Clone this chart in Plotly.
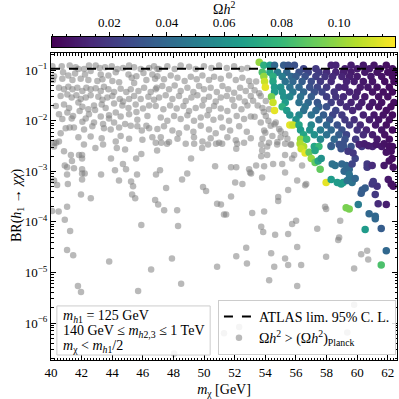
import plotly.graph_objects as go

# gray points: Omega h^2 above the Planck value
gray_x = [
    # upper band
    40.09, 40.7, 41.22, 41.61, 41.79, 42.16, 42.48, 42.92, 43.18, 43.53, 43.97, 44.34, 44.71, 45.1, 45.43, 45.86, 46.41, 46.73, 46.95,
    40.2, 40.79, 41.13, 41.57, 42.22, 42.59, 43.25, 43.75, 44.23, 45.06, 45.58, 46.04, 46.62,
    40.13, 40.74, 41.4, 41.94, 42.44, 43.03, 43.36, 44.01, 44.45, 45.27, 45.43, 46.23, 46.8,
    40.52, 40.85, 41.13, 41.4, 41.72, 42.05, 42.31, 42.59, 42.92, 43.25, 43.46, 43.75, 44.12, 44.55, 44.92, 45.21, 45.71, 46.08, 46.51, 46.84,
    40.63, 41.07, 41.35, 41.66, 41.94, 42.27, 42.59, 43.09, 43.36, 43.68, 44.01, 44.49, 44.71, 45.1, 45.43, 45.86, 46.36, 46.73,
    40.31, 40.85, 41.18, 41.79, 42.05, 42.44, 42.81, 43.31, 43.57, 44.12, 44.66, 45.06, 45.53, 46.01, 46.41,
    40.52, 41.07, 41.44, 41.87, 42.48, 42.88, 43.25, 43.79, 44.23, 44.55, 45.1, 45.58, 46.3,
    40.74, 41.35, 42.05, 42.27, 42.81, 43.4, 43.79, 44.12, 44.84, 45.64, 46.23,
    40.63, 40.96, 41.22, 41.5, 42.16, 42.7, 43.46, 43.9, 44.45, 45.21, 45.64, 45.93, 46.41,
    40.2, 40.52, 41.79, 42.59, 43.31, 44.23, 44.55, 45.1, 45.97, 46.62, 46.84,
    47.06, 47.6, 48.08, 48.47, 49.02, 49.45, 49.99, 50.48, 50.98, 51.48, 51.96, 52.44, 52.83,
    46.95, 47.38, 47.82, 48.26, 48.73, 49.13, 49.52, 49.89, 50.32, 50.65, 51.09, 51.63, 52.07, 52.5, 52.94,
    46.9, 47.27, 47.71, 48.08, 48.47, 48.91, 49.3, 49.67, 49.99, 50.43, 50.83, 51.2, 51.57, 51.96, 52.35, 52.72, 53.05,
    47.06, 47.49, 47.93, 48.36, 48.8, 49.17, 49.56, 49.99, 50.32, 50.76, 51.09, 51.48, 51.85, 52.29, 52.66, 53.05,
    46.84, 47.34, 47.78, 48.21, 48.65, 49.02, 49.45, 49.89, 50.32, 50.65, 51.09, 51.52, 51.96, 52.44, 52.83,
    47.17, 47.6, 48.04, 48.47, 48.91, 49.34, 49.78, 50.22, 50.61, 51.09, 51.63, 52.13, 52.61, 53.05,
    46.95, 47.38, 47.93, 48.36, 48.87, 49.3, 49.78, 50.32, 50.76, 51.2, 51.7, 52.29, 52.79,
    47.17, 47.71, 48.26, 48.8, 49.34, 49.89, 50.43, 50.98, 51.52, 52.07, 52.61, 53.05,
    53.4, 53.3, 53.6, 53.2, 53.5, 53.9, 53.3, 54.2, 54.6, 55.0, 55.3, 54.0,
    53.7, 54.03, 53.81, 54.24, 54.03, 53.7, 54.35, 54.68, 54.9, 53.92, 54.46, 55.0, 53.81, 54.24, 54.79, 55.44, 55.66,
    # sparse middle
    40.2, 40.33, 40.85, 41.3, 41.37, 40.9, 41.05, 41.5, 41.83, 42.03, 42.03, 42.03, 42.03, 42.2, 41.05, 42.03, 40.2, 40.4, 41.1,
    41.96, 42.6, 41.05, 40.07, 40.5, 40.9, 41.25, 41.05, 41.45, 42.15, 42.9, 43.4, 43.92, 44.3, 44.84, 44.7, 44.9, 44.18, 43.27,
    44.44, 45.23, 45.36, 45.3, 45.5, 45.62, 45.56, 45.9, 45.9, 43.8, 46.8, 47.0, 47.39, 47.52, 46.86, 47.12, 46.93, 47.2, 47.58,
    48.24, 48.3, 47.9, 46.54, 48.56, 48.9, 49.15, 49.35, 49.87, 50.26, 49.93, 50.13, 50.72, 50.85, 51.1, 51.3, 51.44, 51.76,
    52.03, 51.76, 52.1, 52.1, 52.16, 51.18, 50.78, 52.5, 52.75, 52.1, 50.85, 52.8, 41.76, 41.96, 45.69, 48.5,
    53.73, 54.12, 53.79, 53.73, 54.12, 54.77, 55.29, 55.69, 55.29, 55.88, 55.75, 53.4, 53.92, 54.51, 55.1, 56.4, 52.94, 53.07,
    53.79, 56.08, 56.67, 55.49, 54.84, 54.84, 57.9, 57.97, 53.14, 53.92, 56.01, 55.75, 57.39, 53.73, 53.86, 54.64, 55.49, 56.08,
    58.89, 58.82, 58.76, 54.38, 55.29, 57.97, 60.65, 60.72, 54.58, 55.49, 56.34, 59.8, 53.0, 55.29, 56.6, 56.08, 54.25, 60.26,
    # lowest
    48.04, 59.8, 51.3, 52.29, 59.35,
]
gray_br = [
    0.12, 0.12, 0.124, 0.115, 0.106, 0.106, 0.124, 0.124, 0.111, 0.115, 0.12, 0.106, 0.111, 0.124, 0.115, 0.106, 0.111, 0.12, 0.106,
    0.076, 0.091, 0.079, 0.086, 0.082, 0.096, 0.082, 0.079, 0.091, 0.082, 0.076, 0.088, 0.082,
    0.064, 0.068, 0.064, 0.068, 0.064, 0.061, 0.066, 0.061, 0.058, 0.071, 0.056, 0.064, 0.068,
    0.045, 0.042, 0.047, 0.042, 0.045, 0.039, 0.045, 0.042, 0.044, 0.039, 0.047, 0.042, 0.037, 0.043, 0.037, 0.042, 0.039, 0.045, 0.037, 0.042,
    0.031, 0.033, 0.029, 0.032, 0.027, 0.029, 0.032, 0.030, 0.026, 0.029, 0.031, 0.027, 0.024, 0.027, 0.031, 0.027, 0.030, 0.026,
    0.0197, 0.021, 0.018, 0.023, 0.019, 0.017, 0.020, 0.021, 0.018, 0.022, 0.020, 0.018, 0.021, 0.0175, 0.020,
    0.0135, 0.0146, 0.0125, 0.0157, 0.0135, 0.0164, 0.0122, 0.0129, 0.0146, 0.0122, 0.0135, 0.015, 0.0125,
    0.0108, 0.0111, 0.0096, 0.0111, 0.0093, 0.0086, 0.0111, 0.0093, 0.0086, 0.0105, 0.008,
    0.0057, 0.0071, 0.0074, 0.0074, 0.0067, 0.0078, 0.0071, 0.0067, 0.0074, 0.008, 0.0078, 0.0064, 0.0071,
    0.0037, 0.0039, 0.0047, 0.0049, 0.0045, 0.0039, 0.005, 0.0044, 0.0042, 0.0047, 0.0037,
    0.106, 0.12, 0.106, 0.124, 0.117, 0.106, 0.12, 0.111, 0.124, 0.111, 0.12, 0.106, 0.111,
    0.076, 0.066, 0.079, 0.071, 0.061, 0.074, 0.066, 0.079, 0.064, 0.074, 0.068, 0.079, 0.064, 0.071, 0.061,
    0.045, 0.0486, 0.042, 0.050, 0.039, 0.045, 0.037, 0.0486, 0.042, 0.045, 0.037, 0.0486, 0.042, 0.036, 0.045, 0.039, 0.0486,
    0.029, 0.032, 0.027, 0.031, 0.0247, 0.029, 0.032, 0.026, 0.030, 0.024, 0.029, 0.031, 0.026, 0.029, 0.024, 0.031,
    0.0197, 0.017, 0.020, 0.0175, 0.0197, 0.0157, 0.018, 0.020, 0.0164, 0.0197, 0.0175, 0.0157, 0.0197, 0.017, 0.020,
    0.0116, 0.010, 0.0125, 0.0108, 0.0129, 0.010, 0.0116, 0.0129, 0.0105, 0.0116, 0.010, 0.0125, 0.0108, 0.0122,
    0.0069, 0.0078, 0.0064, 0.0057, 0.0074, 0.0061, 0.008, 0.0067, 0.0057, 0.0074, 0.0064, 0.0078, 0.0061,
    0.0047, 0.0038, 0.0044, 0.0035, 0.0047, 0.0039, 0.0045, 0.0037, 0.0047, 0.0041, 0.0037, 0.0045,
    0.06, 0.04, 0.035, 0.025, 0.02, 0.015, 0.012, 0.01, 0.0085, 0.0062, 0.0055, 0.0058,
    0.031, 0.0247, 0.018, 0.017, 0.0125, 0.0093, 0.008, 0.0093, 0.0069, 0.0064, 0.005, 0.0047, 0.0044, 0.0037, 0.0038, 0.0044, 0.0034,
    3.1e-3, 3.7e-3, 2.5e-3, 2.1e-3, 1.6e-3, 1.3e-3, 1.2e-3, 1.15e-3, 2.1e-3, 2.1e-3, 1.8e-3, 1.1e-3, 9.1e-4, 9.1e-4, 8.7e-4, 6.9e-4, 6.6e-4, 5.4e-4, 5.6e-4,
    3.5e-4, 2.95e-4, 2.0e-4, 1.65e-4, 1.6e-4, 1.1e-4, 6.6e-5, 2.8e-5, 2.2e-5, 3.4e-3, 2.9e-3, 3.4e-3, 1.8e-3, 2.9e-3, 2.7e-3, 1.4e-3, 1.1e-3, 1.05e-3, 8.7e-4,
    6.6e-4, 6.3e-4, 5.1e-4, 3.5e-4, 2.95e-4, 8.7e-4, 1.8e-3, 2.2e-3, 8.7e-5, 1.65e-5, 2.7e-4, 2.2e-4, 1.7e-4, 4.7e-4, 8.7e-4, 1.05e-3, 2.6e-3, 3.7e-3, 3.5e-3,
    1.7e-4, 8.3e-5, 1.9e-5, 1.15e-5, 6.9e-4, 9.1e-4, 1.8e-3, 3.5e-3, 2.9e-3, 3.4e-3, 4.9e-4, 4.1e-4, 1.26e-3, 2.3e-4, 2.2e-4, 1.4e-4, 1.4e-4, 3.2e-4,
    6.0e-4, 1.2e-3, 1.2e-3, 2.8e-3, 3.5e-3, 3.5e-3, 3.5e-3, 5.6e-4, 3.1e-5, 2.1e-5, 1.3e-5, 1.5e-5, 5.4e-6, 4.1e-6, 4.3e-6, 6.0e-6,
    0.0034, 0.0031, 0.0026, 0.002, 0.0021, 0.0034, 0.0035, 0.0034, 0.0021, 0.0021, 0.0018, 0.0013, 0.00126, 0.0014, 0.0014, 0.0013, 0.0011, 0.00091,
    0.00076, 0.00066, 0.00056, 0.00043, 0.00031, 0.00026, 0.0002, 0.00018, 0.00015, 0.00016, 0.000105, 9.1e-5, 7.3e-5, 8.0e-5, 6.3e-5, 5.6e-5, 5.8e-5, 3.2e-5,
    1.05e-4, 4.9e-5, 4.4e-5, 2.4e-5, 1.9e-5, 2.05e-5, 2.7e-5, 1.8e-5, 1.3e-5, 1.4e-5, 1.4e-5, 1.2e-5, 0.00095, 0.00095, 0.00053, 5.4e-6, 7.0e-6, 2.3e-5,
    2.5e-7, 2.3e-6, 6.3e-7, 8.4e-7, 6.5e-7,
]

# coloured points: Omega h^2 below the Planck value
col_x = [
    53.6,
    53.9, 54.3, 54.6, 55.2, 55.5, 55.9, 58.3, 58.6, 59.6, 60.4, 61.1, 61.9,
    57.3, 59.2, 60.0, 60.8, 61.5, 62.3, 56.5,
    53.8, 54.3, 54.8, 55.4, 56.2, 56.8, 57.5, 58.0, 58.6, 59.1, 59.6, 60.5, 61.3, 62.0, 62.4,
    53.9, 54.5, 55.1, 55.7, 56.0, 56.6, 57.3, 57.9, 58.4, 59.0, 59.5, 60.0, 60.9, 61.6, 62.3,
    53.95, 54.5, 55.3, 55.8, 56.4, 57.0, 57.6, 58.3, 59.3, 59.8, 60.4, 61.0, 61.8, 62.4,
    54.0, 54.6, 55.0, 55.6, 56.2, 56.9, 57.4, 58.0, 58.8, 59.2, 60.2, 60.7, 61.3, 62.1,
    54.6, 55.1, 55.8, 56.5, 57.2, 57.7, 58.5, 59.5, 60.0, 61.0, 61.7, 62.3,
    54.4, 55.2, 55.6, 56.3, 57.0, 58.0, 58.6, 59.1, 59.9, 60.5, 61.4, 62.0,
    54.5, 55.3, 56.2, 56.8, 57.4, 58.3, 58.9, 59.6, 60.3, 61.0, 61.6, 62.4,
    55.1, 56.6, 57.5, 58.0, 59.3, 60.1, 60.8, 61.4, 62.2,
    54.6, 55.4, 56.5, 57.3, 58.6, 59.7, 61.9,
    55.6, 56.2, 57.0, 57.8, 58.4, 59.0, 60.4, 61.1, 61.7, 62.3,
    56.0, 57.5, 58.2, 59.2, 59.8, 60.8, 61.4, 62.1,
    55.6, 55.8, 56.2, 57.0, 58.0, 58.7, 59.5, 60.2, 61.2, 61.9,
    56.3, 56.9, 57.6, 58.3, 59.0, 60.0, 60.6, 61.6, 62.3,
    56.5, 57.2, 58.0, 58.8, 59.3, 60.4, 61.0, 61.8,
    56.3, 56.7, 57.6, 58.5, 59.2, 59.9, 61.3, 62.1,
    56.5, 57.2, 57.5, 58.3, 59.1, 59.6, 60.3, 61.0, 61.6, 62.3,
    56.27, 56.34, 56.6, 56.86, 57.25, 57.0, 57.25, 57.45, 57.65, 57.58,
    58.3, 58.82, 59.08, 58.95, 58.37, 58.56, 59.0, 59.28, 59.15, 59.48, 59.67, 59.87, 59.4, 59.73,
    60.13, 60.46, 60.72, 61.24, 61.76, 62.09, 62.22, 61.9, 62.28, 62.09,
    60.65, 60.65, 60.98, 61.76, 62.35,
    57.97, 58.3, 58.7, 58.95, 59.08, 59.35, 59.54, 59.67, 59.48, 59.87,
    60.33, 60.52, 60.26, 60.98, 61.3, 61.05, 61.18, 61.37, 62.03, 62.22, 62.35, 61.9,
    59.28, 59.48, 60.07, 60.78, 61.18, 61.18, 60.52, 61.57, 61.9, 61.57,
]
col_br = [
    0.144,
    0.126, 0.126, 0.126, 0.126, 0.126, 0.126, 0.126, 0.126, 0.126, 0.126, 0.126, 0.126,
    0.107, 0.107, 0.107, 0.107, 0.107, 0.107, 0.107,
    0.091, 0.091, 0.091, 0.091, 0.091, 0.091, 0.091, 0.091, 0.091, 0.091, 0.091, 0.091, 0.091, 0.091, 0.091,
    0.075, 0.075, 0.075, 0.075, 0.075, 0.075, 0.075, 0.075, 0.075, 0.075, 0.075, 0.075, 0.075, 0.075, 0.075,
    0.06, 0.06, 0.06, 0.06, 0.06, 0.06, 0.06, 0.06, 0.06, 0.06, 0.06, 0.06, 0.06, 0.06,
    0.046, 0.046, 0.046, 0.046, 0.046, 0.046, 0.046, 0.046, 0.046, 0.046, 0.046, 0.046, 0.046, 0.046,
    0.037, 0.037, 0.037, 0.037, 0.037, 0.037, 0.037, 0.037, 0.037, 0.037, 0.037, 0.037,
    0.030, 0.030, 0.030, 0.030, 0.030, 0.030, 0.030, 0.030, 0.030, 0.030, 0.030, 0.030,
    0.023, 0.023, 0.023, 0.023, 0.023, 0.023, 0.023, 0.023, 0.023, 0.023, 0.023, 0.023,
    0.019, 0.019, 0.019, 0.019, 0.019, 0.019, 0.019, 0.019, 0.019,
    0.016, 0.016, 0.016, 0.016, 0.016, 0.016, 0.016,
    0.013, 0.013, 0.013, 0.013, 0.013, 0.013, 0.013, 0.013, 0.013, 0.013,
    0.0105, 0.0105, 0.0105, 0.0105, 0.0105, 0.0105, 0.0105, 0.0105,
    0.0083, 0.0083, 0.0083, 0.0083, 0.0083, 0.0083, 0.0083, 0.0083, 0.0083, 0.0083,
    0.0066, 0.0066, 0.0066, 0.0066, 0.0066, 0.0066, 0.0066, 0.0066, 0.0066,
    0.0053, 0.0053, 0.0053, 0.0053, 0.0053, 0.0053, 0.0053, 0.0053,
    0.0043, 0.0043, 0.0043, 0.0043, 0.0043, 0.0043, 0.0043, 0.0043,
    0.0031, 0.0031, 0.0031, 0.0031, 0.0031, 0.0031, 0.0031, 0.0031, 0.0031, 0.0031,
    0.0035, 0.0028, 0.0023, 0.0024, 0.0026, 0.0018, 0.0015, 0.0016, 0.0018, 0.0011,
    0.0032, 0.0034, 0.0035, 0.0028, 0.0014, 0.0013, 0.0014, 0.0013, 0.001, 0.0011, 0.0014, 0.0018, 0.0025, 0.0023,
    0.0034, 0.0035, 0.0032, 0.0034, 0.0035, 0.0031, 0.0025, 0.0024, 0.0018, 0.0016,
    0.0014, 0.0012, 0.0013, 0.0013, 0.0012,
    6.0e-4, 6.9e-4, 6.0e-4, 5.6e-4, 6.0e-4, 6.6e-4, 7.5e-4, 6.0e-4, 8.7e-4, 7.2e-4,
    4.3e-4, 4.7e-4, 3.7e-4, 5.6e-4, 5.1e-4, 6.3e-4, 3.5e-4, 2.3e-4, 6.9e-4, 5.6e-4, 5.1e-4, 2.2e-4,
    1.9e-4, 1.8e-4, 2.2e-4, 1.45e-4, 1.3e-4, 1.15e-4, 7.1e-5, 7.4e-5, 2.7e-5, 1.4e-5,
]
col_omega = [
    0.10,
    0.075, 0.065, 0.04, 0.035, 0.032, 0.03, 0.012, 0.012, 0.01, 0.008, 0.007, 0.005,
    0.02, 0.01, 0.009, 0.008, 0.006, 0.005, 0.025,
    0.085, 0.07, 0.05, 0.04, 0.03, 0.025, 0.02, 0.015, 0.012, 0.01, 0.009, 0.008, 0.006, 0.005, 0.004,
    0.10, 0.075, 0.05, 0.04, 0.035, 0.03, 0.022, 0.018, 0.015, 0.012, 0.01, 0.009, 0.008, 0.006, 0.004,
    0.11, 0.07, 0.045, 0.04, 0.035, 0.028, 0.02, 0.015, 0.012, 0.01, 0.008, 0.007, 0.005, 0.004,
    0.115, 0.065, 0.06, 0.045, 0.04, 0.03, 0.025, 0.02, 0.014, 0.012, 0.009, 0.008, 0.006, 0.004,
    0.065, 0.06, 0.048, 0.04, 0.03, 0.025, 0.018, 0.012, 0.01, 0.007, 0.005, 0.004,
    0.095, 0.06, 0.055, 0.045, 0.035, 0.022, 0.018, 0.014, 0.011, 0.009, 0.006, 0.005,
    0.11, 0.065, 0.045, 0.04, 0.032, 0.022, 0.016, 0.012, 0.01, 0.008, 0.006, 0.004,
    0.075, 0.045, 0.035, 0.03, 0.015, 0.011, 0.008, 0.006, 0.004,
    0.115, 0.065, 0.045, 0.04, 0.025, 0.013, 0.005,
    0.06, 0.055, 0.045, 0.035, 0.025, 0.02, 0.011, 0.008, 0.006, 0.004,
    0.06, 0.04, 0.032, 0.02, 0.016, 0.01, 0.007, 0.005,
    0.115, 0.11, 0.07, 0.055, 0.04, 0.03, 0.02, 0.014, 0.008, 0.005,
    0.065, 0.06, 0.05, 0.04, 0.03, 0.017, 0.012, 0.007, 0.004,
    0.07, 0.06, 0.045, 0.035, 0.025, 0.015, 0.01, 0.006,
    0.1, 0.08, 0.055, 0.04, 0.03, 0.02, 0.009, 0.005,
    0.105, 0.07, 0.08, 0.05, 0.035, 0.03, 0.02, 0.012, 0.008, 0.005,
    0.105, 0.11, 0.115, 0.09, 0.07, 0.1, 0.09, 0.07, 0.06, 0.09,
    0.035, 0.03, 0.03, 0.03, 0.045, 0.045, 0.04, 0.04, 0.04, 0.04, 0.025, 0.025, 0.02, 0.02,
    0.012, 0.01, 0.01, 0.008, 0.006, 0.005, 0.005, 0.006, 0.004, 0.005,
    0.02, 0.02, 0.015, 0.008, 0.006,
    0.115, 0.065, 0.065, 0.065, 0.065, 0.045, 0.045, 0.045, 0.045, 0.04,
    0.035, 0.035, 0.035, 0.02, 0.018, 0.02, 0.02, 0.015, 0.008, 0.006, 0.006, 0.01,
    0.095, 0.095, 0.05, 0.04, 0.04, 0.04, 0.065, 0.035, 0.04, 0.085,
]

atlas_limit = 0.107
x_range = [40, 62.6]
omega_max = 0.1195
cbar_ticks = [0.02, 0.04, 0.06, 0.08, 0.10]
cbar_ticktext = ["0.02", "0.04", "0.06", "0.08", "0.10"]
y_ticks = [1e-6, 1e-5, 1e-4, 1e-3, 1e-2, 1e-1]
y_ticktext = ["10<sup>−6</sup>", "10<sup>−5</sup>", "10<sup>−4</sup>",
              "10<sup>−3</sup>", "10<sup>−2</sup>", "10<sup>−1</sup>"]

FONT = "Liberation Serif"

# colour ramp for the colorbar strip
ramp = [omega_max * i / 300 for i in range(301)]

fig = go.Figure()

fig.add_trace(go.Scatter(
    x=gray_x, y=gray_br, mode="markers",
    name="Ω<i>h</i><sup>2</sup> > (Ω<i>h</i><sup>2</sup>)<sub>Planck</sub>",
    marker=dict(size=6.5, color="rgba(128,128,128,0.55)", line=dict(width=0)),
    legendrank=2,
))

fig.add_trace(go.Scatter(
    x=col_x, y=col_br, mode="markers", showlegend=False,
    marker=dict(size=7.5, color=col_omega, colorscale="Viridis", cmin=0, cmax=omega_max,
                showscale=False, line=dict(width=0)),
))

fig.add_trace(go.Scatter(
    x=x_range, y=[atlas_limit, atlas_limit], mode="lines",
    name="ATLAS lim. 95% C. L.",
    line=dict(color="black", width=2, dash="dash"),
    legendrank=1,
))

# colorbar drawn as its own strip so the labels can sit on top
fig.add_trace(go.Heatmap(
    x=ramp, y=[0.5], z=[ramp], colorscale="Viridis", zmin=0, zmax=omega_max,
    showscale=False, hoverinfo="skip", xaxis="x2", yaxis="y2",
))

axis_common = dict(
    showline=True, linecolor="black", linewidth=1, mirror="allticks",
    ticks="inside", ticklen=5, tickcolor="black", showgrid=False, zeroline=False,
    automargin=False, tickfont=dict(family=FONT, size=13, color="black"),
)

minor_y = [m * 10 ** e for e in range(-7, 0) for m in range(2, 10)]

fig.update_layout(
    xaxis=dict(
        range=x_range, tickvals=list(range(40, 63, 2)), anchor="y",
        minor=dict(ticks="inside", ticklen=2.5, dtick=0.2, tickcolor="black", showgrid=False),
        title=dict(text="<i>m</i><sub>χ</sub> [GeV]", font=dict(family=FONT, size=14)),
        **axis_common,
    ),
    yaxis=dict(
        type="log", range=[-6.73, -0.66], tickvals=y_ticks, ticktext=y_ticktext,
        domain=[0, 0.8575], anchor="x",
        minor=dict(ticks="inside", ticklen=2.5, tickvals=minor_y, tickcolor="black", showgrid=False),
        **axis_common,
    ),
    xaxis2=dict(
        domain=[0.0029, 0.9942], anchor="y2", side="top", range=[0, omega_max],
        tickvals=cbar_ticks, ticktext=cbar_ticktext, ticks="outside", ticklen=4,
        tickcolor="black", showline=True, linecolor="black", linewidth=1, mirror=True,
        minor=dict(ticks="outside", ticklen=2, dtick=0.005, tickcolor="black", showgrid=False),
        showgrid=False, zeroline=False, automargin=False,
        tickfont=dict(family=FONT, size=13, color="black"),
    ),
    yaxis2=dict(
        domain=[0.8743, 0.9022], anchor="x2", range=[0, 1], showticklabels=False,
        ticks="", showline=True, linecolor="black", linewidth=1, mirror=True,
        showgrid=False, zeroline=False, automargin=False,
    ),
)

fig.add_annotation(
    xref="paper", yref="paper", x=-0.0954, y=0.433, xanchor="center", yanchor="middle",
    text="BR(<i>h</i><sub>1</sub> → <i>χχ</i>)", textangle=-90, showarrow=False,
    font=dict(family=FONT, size=14),
)

fig.add_annotation(
    xref="paper", yref="paper", x=0.4986, y=0.984, xanchor="center", yanchor="middle",
    text="Ω<i>h</i><sup>2</sup>", showarrow=False, font=dict(family=FONT, size=14),
)

# parameter box
fig.add_shape(type="rect", xref="paper", yref="paper", x0=0.017, x1=0.46, y0=0.014, y1=0.151,
              line=dict(color="#cccccc", width=1), fillcolor="rgba(255,255,255,0.85)")
box_lines = [
    "<i>m</i><sub><i>h</i>1</sub> = 125 GeV",
    "140 GeV ≤ <i>m</i><sub><i>h</i>2,3</sub> ≤ 1 TeV",
    "<i>m</i><sub>χ</sub> < <i>m</i><sub><i>h</i>1</sub>/2",
]
for i, line in enumerate(box_lines):
    fig.add_annotation(
        xref="paper", yref="paper", x=0.028, y=0.121 - i * 0.041, xanchor="left", yanchor="middle",
        text=line, showarrow=False, font=dict(family=FONT, size=14),
    )

fig.update_layout(
    width=399, height=399,
    margin=dict(l=51, r=2, t=2, b=39, autoexpand=False),
    plot_bgcolor="white", paper_bgcolor="white",
    font=dict(family=FONT, size=13, color="black"),
    legend=dict(
        x=0.997, y=0.014, xanchor="right", yanchor="bottom",
        bordercolor="#cccccc", borderwidth=1, bgcolor="rgba(255,255,255,0.85)",
        font=dict(family=FONT, size=14), itemwidth=30, tracegroupgap=0,
    ),
)

fig.write_html("out.html", config={"displayModeBar": False},
               post_script="document.body.style.margin='0px';")
